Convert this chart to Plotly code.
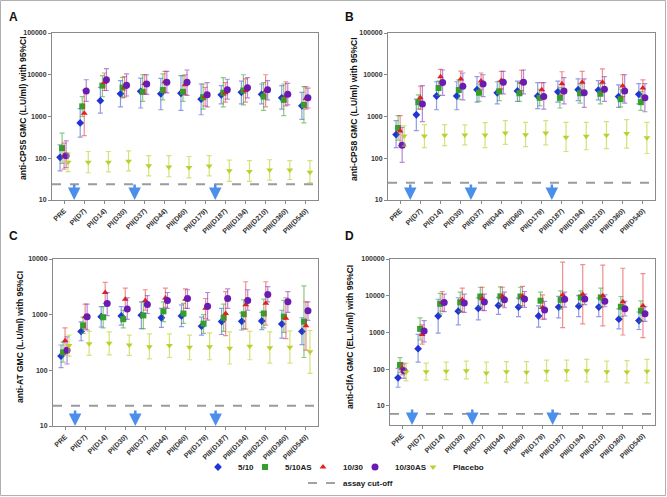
import numpy as np
import plotly.graph_objects as go

W, H = 667, 497

categories = ["PRE", "PI(D7)", "PI(D14)", "PI(D30)", "PII(D37)", "PII(D44)", "PII(D60)",
              "PII(D179)", "PIII(D187)", "PIII(D194)", "PIII(D210)", "PIII(D360)", "PIII(D540)"]
series_names = ["5/10", "5/10AS", "10/30", "10/30AS", "Placebo"]
dose_positions = [0.5, 3.5, 7.5]  # vaccination times, between sampling points

# ---------------- Panel A : anti-CPS5 ----------------
cps5_gmc_510 = [105, 700, 2400, 3500, 4000, 3500, 3600, 2600, 3300, 3800, 3400, 2800, 1800]
cps5_lo_510 = [50, 320, 1200, 1700, 1600, 1450, 1400, 1100, 2000, 2000, 2000, 1500, 850]
cps5_hi_510 = [210, 1550, 5000, 7200, 8300, 8200, 9500, 6000, 5500, 7000, 6000, 5500, 3800]
cps5_gmc_510as = [175, 1750, 5500, 4900, 3900, 4300, 3900, 2900, 3700, 4200, 3000, 2500, 1900]
cps5_lo_510as = [75, 1000, 3000, 2800, 2300, 2500, 2300, 1500, 1700, 1900, 1400, 1050, 700]
cps5_hi_510as = [400, 3000, 9500, 8700, 10000, 10500, 9500, 6000, 8500, 10000, 6500, 6000, 5200]
cps5_gmc_1030 = [115, 1200, 6500, 5000, 6200, 6800, 5800, 3000, 3700, 4200, 4100, 3200, 2700]
cps5_lo_1030 = [55, 350, 4200, 2900, 3500, 3800, 3300, 1800, 2200, 2200, 1700, 1800, 1500]
cps5_hi_1030 = [230, 4300, 11000, 9000, 10000, 12000, 10000, 5000, 6500, 8000, 10000, 6800, 5200]
cps5_gmc_1030as = [115, 4100, 7600, 5600, 6000, 6600, 6600, 3300, 4400, 4900, 4400, 3400, 2800]
cps5_lo_1030as = [60, 2300, 4200, 3100, 3400, 3700, 3200, 1700, 2600, 2800, 2500, 1900, 1600]
cps5_hi_1030as = [260, 7600, 14000, 10500, 10000, 12000, 13000, 6500, 7800, 8500, 7200, 6200, 4800]
cps5_gmc_plc = [80, 80, 80, 85, 66, 62, 60, 65, 50, 48, 52, 52, 46]
cps5_lo_plc = [48, 45, 47, 50, 38, 36, 34, 38, 28, 28, 30, 31, 26]
cps5_hi_plc = [135, 145, 145, 150, 115, 115, 110, 115, 90, 88, 92, 88, 88]
cps5_cutoff = 24

# ---------------- Panel B : anti-CPS8 ----------------
cps8_gmc_510 = [370, 1100, 3100, 3100, 4400, 3700, 4100, 3100, 3900, 4400, 4300, 3000, 3400]
cps8_lo_510 = [180, 460, 1450, 1450, 2200, 2000, 2300, 1550, 2200, 2400, 2500, 1650, 2000]
cps8_hi_510 = [800, 2600, 6800, 6800, 9000, 6800, 7000, 6500, 7000, 8000, 7200, 5700, 6100]
cps8_gmc_510as = [530, 2200, 4800, 4300, 3700, 4000, 3600, 2800, 2800, 3600, 3500, 2600, 2200]
cps8_lo_510as = [270, 1500, 3200, 2600, 2300, 2400, 2300, 1800, 1600, 2100, 2000, 1700, 1400]
cps8_hi_510as = [1050, 3300, 7000, 7500, 6000, 7000, 6500, 4500, 5000, 6000, 6000, 4500, 4000]
cps8_gmc_1030 = [450, 2800, 9000, 7900, 7100, 7300, 6600, 4400, 6100, 6600, 6600, 5400, 4800]
cps8_lo_1030 = [200, 1500, 5500, 5000, 4500, 4600, 4200, 2900, 3400, 4000, 3800, 3000, 3000]
cps8_hi_1030 = [1050, 5300, 13500, 12200, 11000, 12000, 12800, 6500, 11800, 12000, 13800, 10000, 7500]
cps8_gmc_1030as = [205, 2000, 6500, 5300, 6000, 6600, 6600, 3000, 4100, 3700, 4500, 4100, 2800]
cps8_lo_1030as = [80, 750, 3200, 2500, 3000, 3500, 3500, 1500, 2000, 1650, 2300, 2100, 1300]
cps8_hi_1030as = [550, 5500, 13000, 11000, 10000, 12000, 13000, 6500, 8500, 8000, 9000, 10000, 6100]
cps8_gmc_plc = [340, 340, 355, 360, 360, 400, 365, 400, 320, 335, 355, 390, 310]
cps8_lo_plc = [195, 180, 200, 210, 180, 215, 190, 210, 145, 160, 170, 175, 130]
cps8_hi_plc = [600, 640, 640, 630, 710, 800, 720, 800, 720, 720, 750, 840, 720]
cps8_cutoff = 26

# ---------------- Panel C : anti-AT ----------------
at_gmc_510 = [180, 500, 920, 950, 980, 880, 950, 620, 750, 760, 770, 680, 500]
at_lo_510 = [112, 340, 600, 650, 560, 590, 610, 430, 440, 530, 540, 380, 290]
at_hi_510 = [285, 740, 1400, 1400, 1700, 1300, 1500, 900, 1300, 1080, 1100, 1200, 880]
at_gmc_510as = [210, 640, 900, 830, 970, 1150, 1050, 690, 880, 1020, 1050, 920, 750]
at_lo_510as = [140, 460, 580, 580, 560, 750, 700, 460, 500, 560, 580, 480, 170]
at_hi_510as = [320, 900, 1400, 1200, 1700, 1700, 1600, 1000, 1550, 1850, 1900, 1800, 3300]
at_gmc_1030 = [340, 920, 2500, 1900, 1800, 2000, 1900, 1300, 1050, 1500, 1600, 860, 630]
at_lo_1030 = [200, 550, 1600, 1200, 1200, 1350, 1300, 850, 420, 550, 650, 370, 230]
at_hi_1030 = [580, 1550, 3800, 3000, 2800, 3000, 2900, 1950, 2600, 3900, 3900, 2000, 1700]
at_gmc_1030as = [230, 920, 1580, 1260, 1530, 1800, 1950, 1420, 1950, 1800, 2300, 1700, 1180]
at_lo_1030as = [130, 530, 960, 820, 1050, 1300, 1300, 800, 1300, 1200, 1700, 1100, 790]
at_hi_1030as = [400, 1550, 2500, 2000, 2200, 2500, 2800, 2500, 2900, 2800, 3200, 2600, 1700]
at_gmc_plc = [280, 300, 305, 285, 265, 280, 260, 265, 250, 270, 255, 260, 215]
at_lo_plc = [180, 185, 190, 185, 160, 170, 155, 155, 130, 155, 135, 135, 88]
at_hi_plc = [430, 500, 490, 430, 450, 450, 430, 470, 490, 500, 490, 510, 520]
at_cutoff = 23

# ---------------- Panel D : anti-ClfA ----------------
clfa_gmc_510 = [58, 360, 2800, 3800, 4500, 5400, 4900, 2800, 4900, 5200, 4900, 2300, 2100]
clfa_lo_510 = [32, 155, 950, 1600, 2200, 3100, 2700, 1400, 2500, 2700, 2700, 1250, 1200]
clfa_hi_510 = [105, 880, 8000, 8800, 8800, 9000, 8600, 5300, 9600, 10000, 8600, 4400, 3600]
clfa_gmc_510as = [130, 1250, 6000, 6600, 9500, 9600, 9500, 7300, 7700, 9000, 9000, 5000, 3900]
clfa_lo_510as = [80, 620, 3200, 3700, 5000, 5800, 5200, 4500, 4300, 5700, 5000, 2700, 2000]
clfa_hi_510as = [205, 2500, 11500, 12500, 17000, 17500, 17000, 12500, 13500, 13500, 16000, 9500, 7200]
clfa_gmc_1030 = [105, 870, 6500, 7800, 8300, 9600, 9600, 4800, 10500, 11000, 10000, 6800, 5300]
clfa_lo_1030 = [70, 480, 3800, 3600, 4000, 5200, 5400, 2300, 1350, 1700, 1500, 850, 720]
clfa_hi_1030 = [145, 1600, 13000, 16000, 17000, 17000, 18000, 10500, 82000, 70000, 68000, 56000, 40000]
clfa_gmc_1030as = [90, 1100, 6500, 6300, 6700, 7700, 8100, 4100, 8000, 8100, 7100, 4400, 3200]
clfa_lo_1030as = [56, 550, 3700, 3500, 3900, 4700, 4800, 2300, 4900, 5700, 5000, 2800, 2000]
clfa_hi_1030as = [140, 2100, 11000, 11000, 11000, 12500, 13000, 7000, 12500, 11000, 10500, 7000, 5000]
clfa_gmc_plc = [82, 85, 87, 90, 78, 85, 82, 88, 90, 90, 85, 83, 88]
clfa_lo_plc = [48, 50, 52, 54, 42, 44, 42, 48, 48, 45, 45, 42, 42]
clfa_hi_plc = [145, 145, 155, 165, 155, 160, 160, 175, 175, 185, 165, 170, 185]
clfa_cutoff = 6

panels = [
    dict(letter="A", title="anti-CPS5 GMC (L.U/ml) with 95%CI",
         gmc=[cps5_gmc_510, cps5_gmc_510as, cps5_gmc_1030, cps5_gmc_1030as, cps5_gmc_plc],
         lo=[cps5_lo_510, cps5_lo_510as, cps5_lo_1030, cps5_lo_1030as, cps5_lo_plc],
         hi=[cps5_hi_510, cps5_hi_510as, cps5_hi_1030, cps5_hi_1030as, cps5_hi_plc],
         cut=cps5_cutoff, ymin=10, ymax=100000),
    dict(letter="B", title="anti-CPS8 GMC (L.U/ml) with 95%CI",
         gmc=[cps8_gmc_510, cps8_gmc_510as, cps8_gmc_1030, cps8_gmc_1030as, cps8_gmc_plc],
         lo=[cps8_lo_510, cps8_lo_510as, cps8_lo_1030, cps8_lo_1030as, cps8_lo_plc],
         hi=[cps8_hi_510, cps8_hi_510as, cps8_hi_1030, cps8_hi_1030as, cps8_hi_plc],
         cut=cps8_cutoff, ymin=10, ymax=100000),
    dict(letter="C", title="anti-AT GMC (L.U/ml) with 95%CI",
         gmc=[at_gmc_510, at_gmc_510as, at_gmc_1030, at_gmc_1030as, at_gmc_plc],
         lo=[at_lo_510, at_lo_510as, at_lo_1030, at_lo_1030as, at_lo_plc],
         hi=[at_hi_510, at_hi_510as, at_hi_1030, at_hi_1030as, at_hi_plc],
         cut=at_cutoff, ymin=10, ymax=10000),
    dict(letter="D", title="anti-ClfA GMC (EL.U/ml) with 95%CI",
         gmc=[clfa_gmc_510, clfa_gmc_510as, clfa_gmc_1030, clfa_gmc_1030as, clfa_gmc_plc],
         lo=[clfa_lo_510, clfa_lo_510as, clfa_lo_1030, clfa_lo_1030as, clfa_lo_plc],
         hi=[clfa_hi_510, clfa_hi_510as, clfa_hi_1030, clfa_hi_1030as, clfa_hi_plc],
         cut=clfa_cutoff, ymin=3, ymax=100000),
]

# ---------------- styling ----------------
FONT = "Liberation Sans, Arial, sans-serif"
colors = ["#1f33d8", "#34a02c", "#e3201c", "#6a1cb2", "#bccf2c"]
err_colors = ["rgba(70,90,215,0.6)", "rgba(60,165,50,0.6)", "rgba(228,50,50,0.55)",
              "rgba(120,40,180,0.55)", "rgba(190,210,50,0.65)"]
symbols = ["diamond", "square", "triangle-up", "circle", "triangle-down"]
sizes = [6, 6, 6, 7, 6]
offsets = [-0.2, -0.1, 0.0, 0.1, 0.2]
x_range = [-0.6, len(categories) - 0.4]

# pixel boxes of the four plot areas: (left, right, top, bottom)
boxes = [(52, 318, 33, 200), (388, 655, 33, 200), (53, 318, 259, 426), (390, 655, 259, 425)]
# pixel centres of panel letters and of the rotated y titles
letter_pos = [(13, 17), (350, 17), (13, 236), (350, 236)]
ytitle_pos = [(23, 108), (354, 109), (20, 337), (350, 337)]

fig = go.Figure()
xi = np.arange(len(categories))

for p, pan in enumerate(panels):
    xa = "x" if p == 0 else f"x{p + 1}"
    ya = "y" if p == 0 else f"y{p + 1}"
    cut_style = dict(color="#9b9b9b", width=2, dash="dash") if p < 3 else dict(color="#444444", width=1, dash="dash")
    fig.add_trace(go.Scatter(x=x_range, y=[pan["cut"], pan["cut"]], mode="lines", line=cut_style,
                             name="assay cut-off", legend="legend6", showlegend=(p == 3),
                             xaxis=xa, yaxis=ya, hoverinfo="skip"))
    for s in range(5):
        g = np.array(pan["gmc"][s], dtype=float)
        lo = np.array(pan["lo"][s], dtype=float)
        hi = np.array(pan["hi"][s], dtype=float)
        fig.add_trace(go.Scatter(
            x=xi + offsets[s], y=g, mode="markers",
            marker=dict(symbol=symbols[s], size=sizes[s], color=colors[s], line=dict(width=0)),
            error_y=dict(type="data", symmetric=False, array=hi - g, arrayminus=g - lo,
                         color=err_colors[s], thickness=1.2, width=2.5),
            name=series_names[s], legend="legend" if s == 0 else f"legend{s + 1}",
            showlegend=(p == 0), xaxis=xa, yaxis=ya))

layout = dict(width=W, height=H, margin=dict(l=0, r=0, t=0, b=0, autoexpand=False),
              paper_bgcolor="white", plot_bgcolor="white",
              font=dict(family=FONT, color="#222222", size=8, weight="bold"),
              annotations=[], shapes=[])

for p, pan in enumerate(panels):
    l, r, t, b = boxes[p]
    xk = "xaxis" if p == 0 else f"xaxis{p + 1}"
    yk = "yaxis" if p == 0 else f"yaxis{p + 1}"
    xa = "x" if p == 0 else f"x{p + 1}"
    ya = "y" if p == 0 else f"y{p + 1}"
    yt = [v for v in [10, 100, 1000, 10000, 100000] if pan["ymin"] <= v <= pan["ymax"]]
    layout[xk] = dict(domain=[l / W, r / W], anchor=ya, range=x_range, automargin=False,
                      tickmode="array", tickvals=list(xi), ticktext=categories, tickangle=-45,
                      tickfont=dict(size=7, family=FONT, weight="bold", color="#333333"),
                      ticks="outside", ticklen=3, tickcolor="#888888",
                      showline=True, linecolor="#8a8a8a", linewidth=1, mirror=True,
                      showgrid=False, zeroline=False)
    layout[yk] = dict(domain=[1 - b / H, 1 - t / H], anchor=xa, type="log", automargin=False,
                      range=[np.log10(pan["ymin"]), np.log10(pan["ymax"])],
                      tickmode="array", tickvals=yt, ticktext=[str(v) for v in yt],
                      tickfont=dict(size=7, family=FONT, weight="bold", color="#333333"),
                      ticks="outside", ticklen=3, tickcolor="#888888",
                      showline=True, linecolor="#8a8a8a", linewidth=1, mirror=True,
                      showgrid=False, zeroline=False)
    # y-axis title (rotated text)
    tx, ty = ytitle_pos[p]
    layout["annotations"].append(dict(text=pan["title"], xref="paper", yref="paper",
                                      x=tx / W, y=1 - ty / H, xanchor="center", yanchor="middle",
                                      textangle=-90, showarrow=False,
                                      font=dict(size=8.5, family=FONT, weight="bold", color="#111111")))
    # panel letter
    lx, ly = letter_pos[p]
    layout["annotations"].append(dict(text=pan["letter"], xref="paper", yref="paper",
                                      x=lx / W, y=1 - ly / H, xanchor="center", yanchor="middle",
                                      showarrow=False, font=dict(size=12, family=FONT, weight="bold", color="#111111")))
    # vaccination arrows
    for xd in dose_positions:
        layout["annotations"].append(dict(text="", x=xd, y=np.log10(pan["ymin"]), xref=xa, yref=ya,
                                          showarrow=True, ax=0, ay=-17, arrowhead=2, arrowsize=1,
                                          arrowwidth=2.5, arrowcolor="#4a8fea", standoff=0))

# outer frame
layout["shapes"].append(dict(type="rect", xref="paper", yref="paper", x0=0.5 / W, x1=665.5 / W,
                             y0=1 - 495.5 / H, y1=1 - 0.5 / H, line=dict(color="#b0b0b0", width=1)))

# legends: one per entry so they can be placed like the original
legend_marker_x = [220, 267, 325, 377, 435]
for s in range(5):
    key = "legend" if s == 0 else f"legend{s + 1}"
    layout[key] = dict(x=(legend_marker_x[s] - 22) / W, y=1 - 467 / H, xanchor="left", yanchor="middle",
                       orientation="h", bgcolor="rgba(0,0,0,0)", itemwidth=30,
                       font=dict(size=8, family=FONT, weight="bold", color="#222222"))
layout["legend6"] = dict(x=(325 - 22) / W, y=1 - 483 / H, xanchor="left", yanchor="middle",
                         orientation="h", bgcolor="rgba(0,0,0,0)", itemwidth=30,
                         font=dict(size=8, family=FONT, weight="bold", color="#222222"))

fig.update_layout(**layout)
fig.write_html("out.html", config={"displayModeBar": False},
               post_script="document.body.style.margin='0px';")
